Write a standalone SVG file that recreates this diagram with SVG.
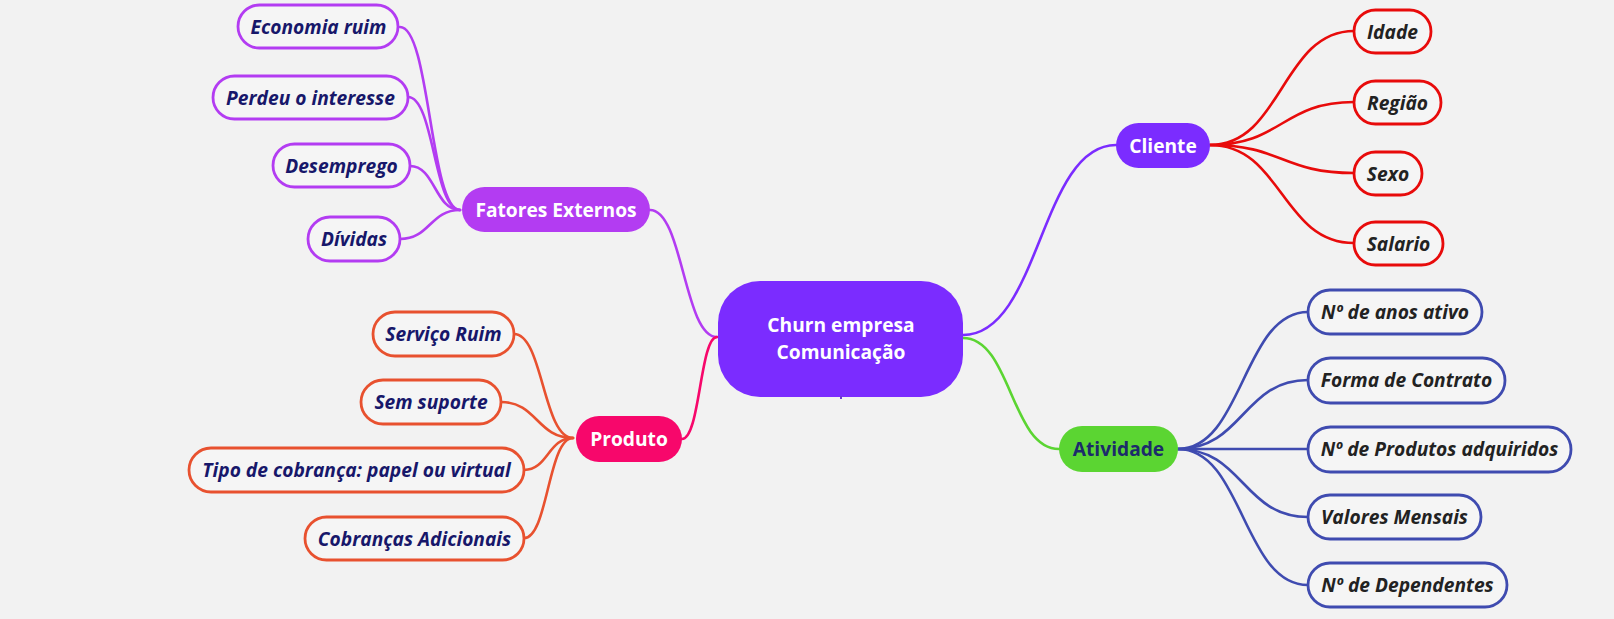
<svg xmlns="http://www.w3.org/2000/svg" width="1614" height="619" viewBox="0 0 1614 619">
<style>
.bg{fill:#f2f2f2}
.leaf{fill:#f5f5f5;stroke-width:2.8}
.lt{font-family:"Open Sans","Noto Sans",sans-serif;font-size:19.2px;font-weight:700;font-style:italic;text-anchor:middle}
.navy{fill:#17176a}
.dark{fill:#222222}
.mt{font-family:"Open Sans","Noto Sans",sans-serif;font-size:19.2px;font-weight:700;text-anchor:middle;fill:#ffffff}
.c{fill:none;stroke-width:2.6;stroke-linecap:round}
.pf{stroke:#b33cf2}.pp{stroke:#f7076b}.po{stroke:#e8512f}.pc{stroke:#7b2cff}.pr{stroke:#e80b0b}.pg{stroke:#5bd532}.pb{stroke:#3f4bb0}
</style>
<rect class="bg" x="0" y="0" width="1614" height="619"/>
<g id="connectors">
<path class="c pf" d="M650 210 C683 210,684 337,717 337"/>
<path class="c pp" d="M682 439 C700 439,700 337,717 337"/>
<path class="c pc" d="M963 335 C1040 335,1040 145,1116 145"/>
<path class="c pg" d="M963 338 C1011 338,1011 449,1059 449"/>
<path class="c pf" d="M400 27 C430 27,430 210,460 210"/>
<path class="c pf" d="M408 97 C434 97,434 210,460 210"/>
<path class="c pf" d="M410 166 C435 166,435 210,460 210"/>
<path class="c pf" d="M400 239 C430 239,430 210,460 210"/>
<path class="c po" d="M514 334 C543 334,543 438,573 438"/>
<path class="c po" d="M501 402 C537 402,537 438,573 438"/>
<path class="c po" d="M524 470 C548 470,548 438,573 438"/>
<path class="c po" d="M524 538 C548 538,548 438,573 438"/>
<path class="c pr" d="M1210 145 C1282 145,1282 31,1354 31"/>
<path class="c pr" d="M1210 145 C1282 145,1282 102,1354 102"/>
<path class="c pr" d="M1210 145 C1282 145,1282 173,1354 173"/>
<path class="c pr" d="M1210 145 C1282 145,1282 243,1354 243"/>
<path class="c pb" d="M1178 449 C1243 449,1243 312,1308 312"/>
<path class="c pb" d="M1178 449 C1243 449,1243 380,1308 380"/>
<path class="c pb" d="M1178 449 L1308 449"/>
<path class="c pb" d="M1178 449 C1243 449,1243 517,1308 517"/>
<path class="c pb" d="M1178 449 C1243 449,1243 585,1308 585"/>
</g>
<g id="center">
<rect x="718" y="281" width="245" height="116" rx="42" fill="#7b2cff"/>
<rect x="840" y="396" width="2" height="3" fill="#6a3ad0"/>
<text class="mt" x="841" y="332">Churn empresa</text>
<text class="mt" x="841" y="359">Comunicação</text>
</g>
<g id="fatores-externos">
<rect x="462" y="187" width="188" height="45" rx="22.5" fill="#b33cf2"/>
<text class="mt" x="556" y="216.5">Fatores Externos</text>
</g>
<g id="produto">
<rect x="576" y="416" width="106" height="46" rx="23" fill="#f7076b"/>
<text class="mt" x="629" y="445.5">Produto</text>
</g>
<g id="cliente">
<rect x="1116" y="123" width="94" height="45" rx="22.5" fill="#7b2cff"/>
<text class="mt" x="1163" y="152.5">Cliente</text>
</g>
<g id="atividade">
<rect x="1059" y="426" width="119" height="46" rx="23" fill="#5bd532"/>
<text class="mt" x="1118.5" y="455.5" style="fill:#1c2b6b">Atividade</text>
</g>
<g id="economia-ruim">
<rect class="leaf pf" x="238" y="5" width="160" height="43" rx="21.5"/>
<text class="lt navy" x="318.5" y="33.5">Economia ruim</text>
</g>
<g id="perdeu-o-interesse">
<rect class="leaf pf" x="213" y="76" width="195" height="43" rx="21.5"/>
<text class="lt navy" x="310.5" y="104.5">Perdeu o interesse</text>
</g>
<g id="desemprego">
<rect class="leaf pf" x="273" y="144" width="137" height="43" rx="21.5"/>
<text class="lt navy" x="341.5" y="172.5">Desemprego</text>
</g>
<g id="dividas">
<rect class="leaf pf" x="308" y="217" width="92" height="44" rx="22"/>
<text class="lt navy" x="354" y="245.5">Dívidas</text>
</g>
<g id="servico-ruim">
<rect class="leaf po" x="373" y="312" width="141" height="44" rx="22"/>
<text class="lt navy" x="443.5" y="340.5">Serviço Ruim</text>
</g>
<g id="sem-suporte">
<rect class="leaf po" x="361" y="380" width="140" height="44" rx="22"/>
<text class="lt navy" x="431" y="408.5">Sem suporte</text>
</g>
<g id="tipo-de-cobranca">
<rect class="leaf po" x="189" y="448" width="335" height="44" rx="22"/>
<text class="lt navy" x="356.5" y="476.5">Tipo de cobrança: papel ou virtual</text>
</g>
<g id="cobrancas-adicionais">
<rect class="leaf po" x="305" y="517" width="219" height="43" rx="21.5"/>
<text class="lt navy" x="414.5" y="545.5">Cobranças Adicionais</text>
</g>
<g id="idade">
<rect class="leaf pr" x="1354" y="10" width="77" height="43" rx="21.5"/>
<text class="lt dark" x="1392.5" y="38.5">Idade</text>
</g>
<g id="regiao">
<rect class="leaf pr" x="1354" y="81" width="87" height="43" rx="21.5"/>
<text class="lt dark" x="1397.5" y="109.5">Região</text>
</g>
<g id="sexo">
<rect class="leaf pr" x="1354" y="152" width="68" height="43" rx="21.5"/>
<text class="lt dark" x="1388" y="180.5">Sexo</text>
</g>
<g id="salario">
<rect class="leaf pr" x="1354" y="222" width="89" height="43" rx="21.5"/>
<text class="lt dark" x="1398.5" y="250.5">Salario</text>
</g>
<g id="anos-ativo">
<rect class="leaf pb" x="1308" y="290" width="174" height="44" rx="22"/>
<text class="lt dark" x="1395" y="318.5">Nº de anos ativo</text>
</g>
<g id="forma-de-contrato">
<rect class="leaf pb" x="1308" y="358" width="197" height="45" rx="22.5"/>
<text class="lt dark" x="1406.5" y="387">Forma de Contrato</text>
</g>
<g id="produtos-adquiridos">
<rect class="leaf pb" x="1308" y="427" width="263" height="45" rx="22.5"/>
<text class="lt dark" x="1439.5" y="456">Nº de Produtos adquiridos</text>
</g>
<g id="valores-mensais">
<rect class="leaf pb" x="1308" y="495" width="173" height="44" rx="22"/>
<text class="lt dark" x="1394.5" y="523.5">Valores Mensais</text>
</g>
<g id="dependentes">
<rect class="leaf pb" x="1308" y="563" width="199" height="44" rx="22"/>
<text class="lt dark" x="1407.5" y="591.5">Nº de Dependentes</text>
</g>
</svg>
